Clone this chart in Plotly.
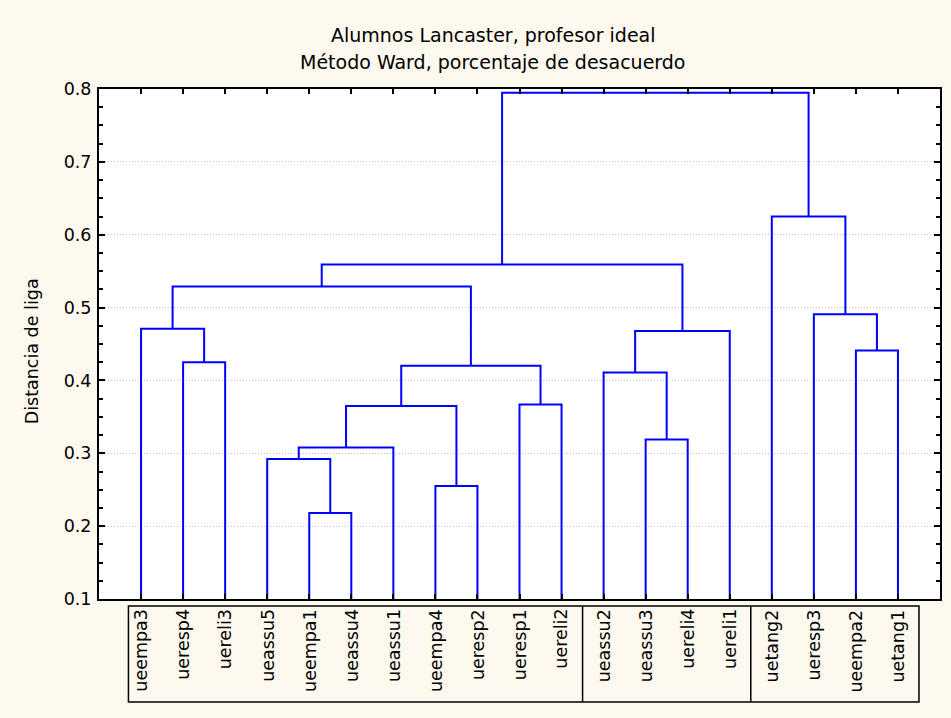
import plotly.graph_objects as go

# ---------------- data ----------------
leaf_labels = ["ueempa3", "ueresp4", "uereli3", "ueassu5", "ueempa1", "ueassu4",
               "ueassu1", "ueempa4", "ueresp2", "ueresp1", "uereli2", "ueassu2",
               "ueassu3", "uereli4", "uereli1", "uetang2", "ueresp3", "ueempa2",
               "uetang1"]
# merges: child ids (0..18 leaves, 19+ earlier merges in order) and linkage distance
merge_left = [4, 7, 3, 21, 12, 22, 9, 11, 24, 1, 17, 26, 0, 16, 31, 33, 15, 34]
merge_right = [5, 8, 19, 6, 13, 20, 10, 23, 25, 2, 18, 14, 28, 29, 27, 30, 32, 35]
merge_height = [0.218, 0.255, 0.292, 0.308, 0.319, 0.365, 0.367, 0.411, 0.420,
                0.425, 0.441, 0.468, 0.471, 0.491, 0.529, 0.559, 0.625, 0.795]
# groups drawn as boxes under the labels (first leaf, last leaf)
group_first = [0, 11, 15]
group_last = [10, 14, 18]

title_lines = ["Alumnos Lancaster, profesor ideal",
               "Método Ward, porcentaje de desacuerdo"]
y_title = "Distancia de liga"

# ---------------- build dendrogram paths ----------------
n = len(leaf_labels)
pos = {i: float(i) for i in range(n)}
hgt = {i: 0.0 for i in range(n)}
xs, ys = [], []
for k, (a, b, h) in enumerate(zip(merge_left, merge_right, merge_height)):
    xa, xb = pos[a], pos[b]
    xs += [xa, xa, xb, xb, None]
    ys += [hgt[a], h, h, hgt[b], None]
    pos[n + k] = (xa + xb) / 2
    hgt[n + k] = h

FONT = "DejaVu Sans"
BG = "#FDF9EE"
fig = go.Figure()
fig.add_trace(go.Scatter(x=xs, y=ys, mode="lines",
                         line=dict(color="#0000FF", width=2),
                         hoverinfo="skip", showlegend=False))

# label box
shapes = []
left_edge = group_first[0] - 0.3
right_edge = group_last[-1] + 0.5
box_top, box_bot = -0.0137, -0.202
shapes.append(dict(type="rect", xref="x", yref="paper", x0=left_edge, x1=right_edge,
                   y0=box_bot, y1=box_top, line=dict(color="black", width=1.5)))
for last in group_last[:-1]:
    shapes.append(dict(type="line", xref="x", yref="paper", x0=last + 0.5, x1=last + 0.5,
                       y0=box_bot, y1=box_top, line=dict(color="black", width=1.5)))

annotations = []
for i, lab in enumerate(leaf_labels):
    annotations.append(dict(x=i, y=-0.016, xref="x", yref="paper", text=lab,
                            textangle=-90, showarrow=False, xanchor="center",
                            yanchor="top", font=dict(family=FONT, size=17.5, color="black")))
annotations.append(dict(x=0.4686, y=1.106, xref="paper", yref="paper", text=title_lines[0],
                        showarrow=False, xanchor="center", yanchor="middle",
                        font=dict(family=FONT, size=19, color="black")))
annotations.append(dict(x=0.4686, y=1.052, xref="paper", yref="paper", text=title_lines[1],
                        showarrow=False, xanchor="center", yanchor="middle",
                        font=dict(family=FONT, size=19, color="black")))
annotations.append(dict(x=-0.0795, y=0.486, xref="paper", yref="paper", text=y_title,
                        textangle=-90, showarrow=False, xanchor="center", yanchor="middle",
                        font=dict(family=FONT, size=17.5, color="black")))

fig.update_layout(
    width=951, height=718,
    margin=dict(l=99, r=9, t=89, b=119),
    paper_bgcolor=BG, plot_bgcolor="white",
    showlegend=False,
    shapes=shapes, annotations=annotations,
    font=dict(family=FONT, color="black"),
)
fig.update_xaxes(range=[-1, n], tickvals=list(range(n)), showticklabels=False,
                 ticks="inside", ticklen=5, tickwidth=1.5, tickcolor="black",
                 showline=True, linecolor="black", linewidth=2, mirror="allticks",
                 showgrid=False, zeroline=False)
fig.update_yaxes(range=[0.1, 0.8], tick0=0.1, dtick=0.1, tickformat=".1f",
                 ticks="inside", ticklen=6, tickwidth=1.5, tickcolor="black",
                 showline=True, linecolor="black", linewidth=2, mirror="allticks",
                 showgrid=True, gridcolor="#C4C4C4", griddash="1px,2px", gridwidth=1,
                 zeroline=False, ticklabelstandoff=2,
                 tickfont=dict(family=FONT, size=17.5, color="black"),
                 minor=dict(dtick=0.025, tick0=0.1, ticks="inside", ticklen=4,
                            tickwidth=1.5, tickcolor="black", showgrid=False))

fig.write_html("out.html")
